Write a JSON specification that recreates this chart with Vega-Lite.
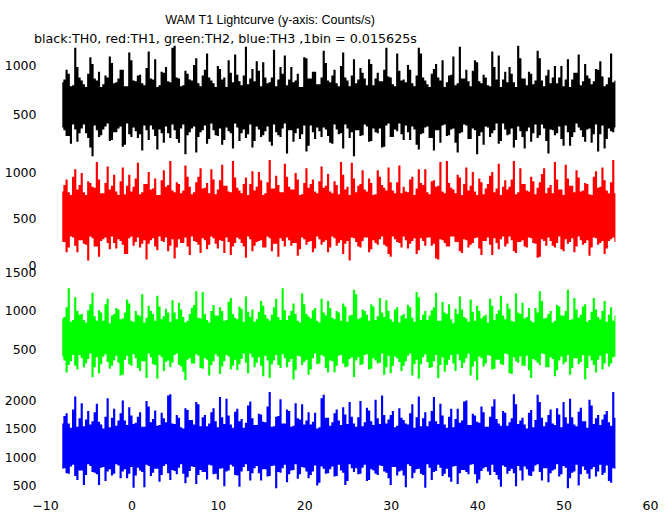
{
"$schema": "https://vega.github.io/schema/vega-lite/v6.json",
"background": "white",
"padding": {"left": 4, "top": 13, "right": 10, "bottom": 0},
"bounds": "flush",
"spacing": 0,
"title": {"text": "WAM T1 Lightcurve (y-axis: Counts/s)", "anchor": "start", "dx": 161, "offset": 7, "font": "Liberation Sans", "fontSize": 12.5, "fontWeight": "normal", "color": "black"},
"data": {"values": [
{"t":-8,"a0":360,"a1":830,"b0":250,"b1":800,"c0":400,"c1":900,"d0":790,"d1":1600},
{"t":-7.75,"a0":330,"a1":860,"b0":250,"b1":870,"c0":350,"c1":920,"d0":800,"d1":1730},
{"t":-7.5,"a0":270,"a1":960,"b0":140,"b1":930,"c0":190,"c1":1050,"d0":710,"d1":1780},
{"t":-7.25,"a0":270,"a1":920,"b0":190,"b1":790,"c0":290,"c1":1300,"d0":700,"d1":1600},
{"t":-7,"a0":190,"a1":790,"b0":310,"b1":760,"c0":340,"c1":860,"d0":830,"d1":1520},
{"t":-6.75,"a0":390,"a1":800,"b0":300,"b1":960,"c0":420,"c1":880,"d0":860,"d1":1850},
{"t":-6.5,"a0":340,"a1":1190,"b0":210,"b1":1040,"c0":280,"c1":1180,"d0":660,"d1":2080},
{"t":-6.25,"a0":210,"a1":990,"b0":140,"b1":820,"c0":230,"c1":1000,"d0":590,"d1":1540},
{"t":-6,"a0":300,"a1":880,"b0":270,"b1":870,"c0":420,"c1":950,"d0":760,"d1":1690},
{"t":-5.75,"a0":350,"a1":850,"b0":270,"b1":1000,"c0":380,"c1":960,"d0":760,"d1":1960},
{"t":-5.5,"a0":390,"a1":810,"b0":230,"b1":790,"c0":260,"c1":880,"d0":500,"d1":1550},
{"t":-5.25,"a0":300,"a1":780,"b0":220,"b1":760,"c0":310,"c1":850,"d0":680,"d1":1670},
{"t":-5,"a0":250,"a1":920,"b0":50,"b1":910,"c0":370,"c1":1010,"d0":870,"d1":1820},
{"t":-4.75,"a0":150,"a1":1090,"b0":310,"b1":890,"c0":440,"c1":1090,"d0":840,"d1":1580},
{"t":-4.5,"a0":60,"a1":1020,"b0":290,"b1":850,"c0":130,"c1":1240,"d0":730,"d1":1640},
{"t":-4.25,"a0":380,"a1":870,"b0":200,"b1":840,"c0":260,"c1":930,"d0":720,"d1":1800},
{"t":-4,"a0":330,"a1":850,"b0":200,"b1":1120,"c0":390,"c1":870,"d0":690,"d1":1950},
{"t":-3.75,"a0":260,"a1":940,"b0":90,"b1":930,"c0":180,"c1":1010,"d0":500,"d1":1630},
{"t":-3.5,"a0":280,"a1":780,"b0":260,"b1":780,"c0":300,"c1":980,"d0":810,"d1":1580},
{"t":-3.25,"a0":340,"a1":810,"b0":280,"b1":780,"c0":400,"c1":870,"d0":820,"d1":1510},
{"t":-3,"a0":370,"a1":900,"b0":300,"b1":890,"c0":430,"c1":1090,"d0":570,"d1":1720},
{"t":-2.75,"a0":400,"a1":880,"b0":240,"b1":1070,"c0":330,"c1":1160,"d0":740,"d1":2050},
{"t":-2.5,"a0":220,"a1":1100,"b0":170,"b1":820,"c0":240,"c1":840,"d0":780,"d1":1530},
{"t":-2.25,"a0":230,"a1":1030,"b0":310,"b1":860,"c0":280,"c1":940,"d0":670,"d1":1700},
{"t":-2,"a0":310,"a1":820,"b0":240,"b1":980,"c0":350,"c1":960,"d0":700,"d1":1860},
{"t":-1.75,"a0":310,"a1":830,"b0":180,"b1":800,"c0":410,"c1":1040,"d0":870,"d1":1560},
{"t":-1.5,"a0":350,"a1":870,"b0":280,"b1":760,"c0":320,"c1":1020,"d0":850,"d1":1650},
{"t":-1.25,"a0":370,"a1":960,"b0":260,"b1":910,"c0":150,"c1":890,"d0":620,"d1":1780},
{"t":-1,"a0":160,"a1":960,"b0":220,"b1":1060,"c0":160,"c1":900,"d0":740,"d1":2010},
{"t":-0.75,"a0":180,"a1":790,"b0":120,"b1":770,"c0":360,"c1":980,"d0":780,"d1":1650},
{"t":-0.5,"a0":400,"a1":790,"b0":120,"b1":860,"c0":410,"c1":1150,"d0":620,"d1":1570},
{"t":-0.25,"a0":290,"a1":1140,"b0":290,"b1":980,"c0":300,"c1":1100,"d0":700,"d1":1890},
{"t":0,"a0":260,"a1":1060,"b0":310,"b1":800,"c0":280,"c1":870,"d0":820,"d1":1740},
{"t":0.25,"a0":360,"a1":850,"b0":210,"b1":850,"c0":430,"c1":860,"d0":450,"d1":1590},
{"t":0.5,"a0":320,"a1":840,"b0":250,"b1":940,"c0":380,"c1":1000,"d0":670,"d1":1610},
{"t":0.75,"a0":250,"a1":900,"b0":300,"b1":1110,"c0":250,"c1":950,"d0":810,"d1":1720},
{"t":1,"a0":290,"a1":910,"b0":190,"b1":770,"c0":210,"c1":930,"d0":760,"d1":1800},
{"t":1.25,"a0":120,"a1":820,"b0":230,"b1":790,"c0":340,"c1":1220,"d0":730,"d1":1540},
{"t":1.5,"a0":380,"a1":800,"b0":270,"b1":880,"c0":340,"c1":850,"d0":460,"d1":1540},
{"t":1.75,"a0":330,"a1":980,"b0":60,"b1":880,"c0":120,"c1":910,"d0":860,"d1":2000},
{"t":2,"a0":230,"a1":1150,"b0":230,"b1":1010,"c0":440,"c1":1070,"d0":840,"d1":1900},
{"t":2.25,"a0":380,"a1":870,"b0":270,"b1":820,"c0":390,"c1":1000,"d0":660,"d1":1620},
{"t":2.5,"a0":340,"a1":860,"b0":290,"b1":830,"c0":300,"c1":960,"d0":720,"d1":1680},
{"t":2.75,"a0":270,"a1":1070,"b0":200,"b1":940,"c0":290,"c1":870,"d0":790,"d1":1830},
{"t":3,"a0":130,"a1":780,"b0":160,"b1":760,"c0":110,"c1":1200,"d0":790,"d1":1560},
{"t":3.25,"a0":340,"a1":800,"b0":310,"b1":760,"c0":420,"c1":1060,"d0":560,"d1":1570},
{"t":3.5,"a0":300,"a1":940,"b0":260,"b1":920,"c0":390,"c1":890,"d0":680,"d1":1790},
{"t":3.75,"a0":200,"a1":930,"b0":250,"b1":1030,"c0":210,"c1":930,"d0":840,"d1":1690},
{"t":4,"a0":370,"a1":990,"b0":300,"b1":850,"c0":330,"c1":1030,"d0":870,"d1":1620},
{"t":4.25,"a0":300,"a1":840,"b0":150,"b1":870,"c0":350,"c1":980,"d0":710,"d1":2100},
{"t":4.5,"a0":250,"a1":830,"b0":210,"b1":1130,"c0":260,"c1":860,"d0":590,"d1":2120},
{"t":4.75,"a0":390,"a1":1190,"b0":280,"b1":810,"c0":320,"c1":1140,"d0":770,"d1":1600},
{"t":5,"a0":330,"a1":1210,"b0":70,"b1":790,"c0":420,"c1":980,"d0":750,"d1":1590},
{"t":5.25,"a0":240,"a1":880,"b0":190,"b1":900,"c0":440,"c1":890,"d0":690,"d1":1750},
{"t":5.5,"a0":200,"a1":870,"b0":280,"b1":880,"c0":290,"c1":1110,"d0":810,"d1":1700},
{"t":5.75,"a0":350,"a1":790,"b0":240,"b1":780,"c0":270,"c1":1020,"d0":870,"d1":1530},
{"t":6,"a0":390,"a1":800,"b0":240,"b1":810,"c0":200,"c1":920,"d0":700,"d1":1510},
{"t":6.25,"a0":80,"a1":950,"b0":300,"b1":1080,"c0":90,"c1":850,"d0":530,"d1":1870},
{"t":6.5,"a0":280,"a1":920,"b0":200,"b1":960,"c0":360,"c1":870,"d0":640,"d1":1840},
{"t":6.75,"a0":310,"a1":860,"b0":110,"b1":850,"c0":380,"c1":960,"d0":750,"d1":1660},
{"t":7,"a0":350,"a1":850,"b0":310,"b1":770,"c0":310,"c1":1040,"d0":830,"d1":1660},
{"t":7.25,"a0":370,"a1":1010,"b0":260,"b1":790,"c0":310,"c1":1080,"d0":820,"d1":1580},
{"t":7.5,"a0":100,"a1":1080,"b0":250,"b1":900,"c0":430,"c1":1260,"d0":520,"d1":1980},
{"t":7.75,"a0":260,"a1":820,"b0":220,"b1":960,"c0":410,"c1":910,"d0":680,"d1":1940},
{"t":8,"a0":310,"a1":790,"b0":130,"b1":1050,"c0":250,"c1":900,"d0":770,"d1":1550},
{"t":8.25,"a0":330,"a1":900,"b0":290,"b1":830,"c0":240,"c1":1250,"d0":730,"d1":1710},
{"t":8.5,"a0":380,"a1":960,"b0":270,"b1":840,"c0":380,"c1":960,"d0":730,"d1":1750},
{"t":8.75,"a0":190,"a1":1130,"b0":170,"b1":890,"c0":360,"c1":880,"d0":600,"d1":1550},
{"t":9,"a0":240,"a1":880,"b0":220,"b1":780,"c0":150,"c1":850,"d0":860,"d1":1600},
{"t":9.25,"a0":400,"a1":850,"b0":310,"b1":1040,"c0":290,"c1":1000,"d0":850,"d1":1800},
{"t":9.5,"a0":330,"a1":820,"b0":290,"b1":930,"c0":340,"c1":1080,"d0":690,"d1":1870},
{"t":9.75,"a0":280,"a1":780,"b0":230,"b1":770,"c0":430,"c1":940,"d0":700,"d1":1640},
{"t":10,"a0":270,"a1":1000,"b0":180,"b1":820,"c0":400,"c1":940,"d0":600,"d1":1530},
{"t":10.25,"a0":350,"a1":970,"b0":270,"b1":920,"c0":170,"c1":1050,"d0":790,"d1":2070},
{"t":10.5,"a0":180,"a1":860,"b0":260,"b1":1090,"c0":270,"c1":1000,"d0":800,"d1":1710},
{"t":10.75,"a0":230,"a1":880,"b0":130,"b1":860,"c0":340,"c1":870,"d0":480,"d1":1590},
{"t":11,"a0":360,"a1":780,"b0":300,"b1":860,"c0":420,"c1":880,"d0":740,"d1":2040},
{"t":11.25,"a0":320,"a1":1060,"b0":250,"b1":800,"c0":400,"c1":1120,"d0":760,"d1":1740},
{"t":11.5,"a0":300,"a1":930,"b0":110,"b1":790,"c0":230,"c1":1170,"d0":860,"d1":1580},
{"t":11.75,"a0":140,"a1":830,"b0":200,"b1":1130,"c0":280,"c1":960,"d0":830,"d1":1520},
{"t":12,"a0":400,"a1":1120,"b0":240,"b1":950,"c0":360,"c1":910,"d0":680,"d1":1810},
{"t":12.25,"a0":360,"a1":910,"b0":300,"b1":840,"c0":220,"c1":890,"d0":670,"d1":1860},
{"t":12.5,"a0":220,"a1":840,"b0":280,"b1":810,"c0":300,"c1":1060,"d0":470,"d1":1640},
{"t":12.75,"a0":300,"a1":800,"b0":240,"b1":780,"c0":370,"c1":1030,"d0":740,"d1":1680},
{"t":13,"a0":340,"a1":900,"b0":200,"b1":880,"c0":440,"c1":860,"d0":820,"d1":1520},
{"t":13.25,"a0":250,"a1":1200,"b0":80,"b1":950,"c0":320,"c1":1190,"d0":870,"d1":1610},
{"t":13.5,"a0":290,"a1":810,"b0":310,"b1":760,"c0":180,"c1":990,"d0":750,"d1":1920},
{"t":13.75,"a0":390,"a1":870,"b0":280,"b1":880,"c0":440,"c1":920,"d0":580,"d1":1990},
{"t":14,"a0":150,"a1":970,"b0":150,"b1":1020,"c0":390,"c1":1020,"d0":710,"d1":1690},
{"t":14.25,"a0":220,"a1":840,"b0":210,"b1":810,"c0":260,"c1":860,"d0":800,"d1":1570},
{"t":14.5,"a0":370,"a1":1050,"b0":250,"b1":850,"c0":320,"c1":890,"d0":840,"d1":1570},
{"t":14.75,"a0":340,"a1":950,"b0":260,"b1":1010,"c0":390,"c1":990,"d0":710,"d1":1770},
{"t":15,"a0":260,"a1":790,"b0":270,"b1":920,"c0":280,"c1":1130,"d0":580,"d1":1760},
{"t":15.25,"a0":280,"a1":1040,"b0":190,"b1":760,"c0":140,"c1":1070,"d0":780,"d1":1630},
{"t":15.5,"a0":320,"a1":880,"b0":190,"b1":780,"c0":410,"c1":950,"d0":780,"d1":1620},
{"t":15.75,"a0":370,"a1":820,"b0":310,"b1":900,"c0":350,"c1":900,"d0":650,"d1":1900},
{"t":16,"a0":210,"a1":830,"b0":290,"b1":1140,"c0":120,"c1":870,"d0":660,"d1":2160},
{"t":16.25,"a0":170,"a1":880,"b0":150,"b1":830,"c0":300,"c1":950,"d0":840,"d1":1540},
{"t":16.5,"a0":390,"a1":1170,"b0":230,"b1":830,"c0":350,"c1":1050,"d0":850,"d1":1550},
{"t":16.75,"a0":310,"a1":790,"b0":230,"b1":970,"c0":420,"c1":1160,"d0":440,"d1":1720},
{"t":17,"a0":280,"a1":860,"b0":90,"b1":870,"c0":290,"c1":920,"d0":730,"d1":1730},
{"t":17.25,"a0":260,"a1":990,"b0":290,"b1":790,"c0":250,"c1":880,"d0":720,"d1":2030},
{"t":17.5,"a0":350,"a1":920,"b0":260,"b1":790,"c0":430,"c1":1300,"d0":800,"d1":1600},
{"t":17.75,"a0":400,"a1":1110,"b0":200,"b1":1100,"c0":380,"c1":1010,"d0":860,"d1":1600},
{"t":18,"a0":90,"a1":800,"b0":300,"b1":960,"c0":260,"c1":880,"d0":550,"d1":1850},
{"t":18.25,"a0":330,"a1":860,"b0":270,"b1":850,"c0":330,"c1":940,"d0":690,"d1":1820},
{"t":18.5,"a0":330,"a1":990,"b0":210,"b1":820,"c0":370,"c1":1000,"d0":760,"d1":1540},
{"t":18.75,"a0":210,"a1":830,"b0":240,"b1":820,"c0":100,"c1":1100,"d0":770,"d1":1560},
{"t":19,"a0":300,"a1":850,"b0":240,"b1":1000,"c0":220,"c1":960,"d0":870,"d1":1960},
{"t":19.25,"a0":350,"a1":920,"b0":100,"b1":930,"c0":410,"c1":870,"d0":610,"d1":1690},
{"t":19.5,"a0":240,"a1":780,"b0":170,"b1":760,"c0":400,"c1":850,"d0":690,"d1":1670},
{"t":19.75,"a0":290,"a1":780,"b0":300,"b1":770,"c0":290,"c1":1230,"d0":820,"d1":1940},
{"t":20,"a0":380,"a1":1090,"b0":280,"b1":890,"c0":330,"c1":1090,"d0":810,"d1":1580},
{"t":20.25,"a0":110,"a1":1080,"b0":220,"b1":1050,"c0":360,"c1":960,"d0":740,"d1":1650},
{"t":20.5,"a0":170,"a1":870,"b0":250,"b1":840,"c0":160,"c1":930,"d0":620,"d1":1800},
{"t":20.75,"a0":380,"a1":870,"b0":260,"b1":880,"c0":230,"c1":900,"d0":680,"d1":1580},
{"t":21,"a0":310,"a1":940,"b0":140,"b1":930,"c0":380,"c1":1010,"d0":740,"d1":1630},
{"t":21.25,"a0":240,"a1":940,"b0":180,"b1":800,"c0":440,"c1":1040,"d0":850,"d1":1790},
{"t":21.5,"a0":360,"a1":810,"b0":310,"b1":780,"c0":300,"c1":870,"d0":490,"d1":1510},
{"t":21.75,"a0":320,"a1":810,"b0":280,"b1":910,"c0":310,"c1":850,"d0":540,"d1":1530},
{"t":22,"a0":260,"a1":880,"b0":220,"b1":1070,"c0":420,"c1":1160,"d0":830,"d1":2050},
{"t":22.25,"a0":360,"a1":1160,"b0":250,"b1":840,"c0":400,"c1":980,"d0":790,"d1":2110},
{"t":22.5,"a0":340,"a1":1030,"b0":270,"b1":860,"c0":250,"c1":940,"d0":700,"d1":1700},
{"t":22.75,"a0":270,"a1":850,"b0":140,"b1":990,"c0":190,"c1":1130,"d0":710,"d1":1700},
{"t":23,"a0":200,"a1":830,"b0":190,"b1":800,"c0":350,"c1":1040,"d0":780,"d1":1560},
{"t":23.25,"a0":190,"a1":900,"b0":310,"b1":780,"c0":340,"c1":910,"d0":830,"d1":1620},
{"t":23.5,"a0":390,"a1":960,"b0":290,"b1":910,"c0":190,"c1":890,"d0":650,"d1":1780},
{"t":23.75,"a0":340,"a1":820,"b0":210,"b1":870,"c0":280,"c1":1000,"d0":660,"d1":1850},
{"t":24,"a0":290,"a1":790,"b0":240,"b1":770,"c0":410,"c1":980,"d0":860,"d1":1650},
{"t":24.25,"a0":300,"a1":1000,"b0":270,"b1":1120,"c0":420,"c1":870,"d0":760,"d1":1570},
{"t":24.5,"a0":140,"a1":1140,"b0":120,"b1":980,"c0":310,"c1":1100,"d0":720,"d1":1890},
{"t":24.75,"a0":390,"a1":880,"b0":230,"b1":820,"c0":260,"c1":1060,"d0":500,"d1":1760},
{"t":25,"a0":350,"a1":850,"b0":260,"b1":850,"c0":270,"c1":860,"d0":570,"d1":1590},
{"t":25.25,"a0":250,"a1":790,"b0":50,"b1":760,"c0":370,"c1":940,"d0":870,"d1":1980},
{"t":25.5,"a0":310,"a1":900,"b0":300,"b1":1110,"c0":390,"c1":950,"d0":800,"d1":1720},
{"t":25.75,"a0":60,"a1":1070,"b0":290,"b1":940,"c0":130,"c1":1280,"d0":730,"d1":1600},
{"t":26,"a0":330,"a1":820,"b0":250,"b1":790,"c0":350,"c1":1220,"d0":800,"d1":1540},
{"t":26.25,"a0":330,"a1":860,"b0":200,"b1":860,"c0":390,"c1":890,"d0":690,"d1":1710},
{"t":26.5,"a0":270,"a1":980,"b0":190,"b1":880,"c0":290,"c1":910,"d0":700,"d1":2000},
{"t":26.75,"a0":280,"a1":930,"b0":260,"b1":1030,"c0":300,"c1":1020,"d0":810,"d1":1550},
{"t":27,"a0":390,"a1":870,"b0":300,"b1":820,"c0":420,"c1":1000,"d0":860,"d1":1620},
{"t":27.25,"a0":370,"a1":800,"b0":300,"b1":800,"c0":430,"c1":950,"d0":570,"d1":1880},
{"t":27.5,"a0":210,"a1":1070,"b0":140,"b1":940,"c0":230,"c1":870,"d0":590,"d1":1830},
{"t":27.75,"a0":220,"a1":1020,"b0":170,"b1":890,"c0":240,"c1":1090,"d0":780,"d1":1640},
{"t":28,"a0":350,"a1":800,"b0":270,"b1":760,"c0":380,"c1":1060,"d0":760,"d1":1570},
{"t":28.25,"a0":310,"a1":870,"b0":240,"b1":770,"c0":350,"c1":880,"d0":700,"d1":2020},
{"t":28.5,"a0":300,"a1":930,"b0":220,"b1":1030,"c0":310,"c1":930,"d0":680,"d1":1690},
{"t":28.75,"a0":350,"a1":840,"b0":280,"b1":960,"c0":320,"c1":1170,"d0":850,"d1":1590},
{"t":29,"a0":150,"a1":840,"b0":310,"b1":870,"c0":440,"c1":980,"d0":840,"d1":2100},
{"t":29.25,"a0":160,"a1":960,"b0":220,"b1":840,"c0":160,"c1":920,"d0":740,"d1":1750},
{"t":29.5,"a0":380,"a1":1190,"b0":200,"b1":810,"c0":260,"c1":1140,"d0":720,"d1":1600},
{"t":29.75,"a0":400,"a1":890,"b0":120,"b1":1060,"c0":410,"c1":1000,"d0":620,"d1":1670},
{"t":30,"a0":260,"a1":880,"b0":90,"b1":900,"c0":180,"c1":890,"d0":500,"d1":1750},
{"t":30.25,"a0":260,"a1":810,"b0":310,"b1":810,"c0":280,"c1":860,"d0":820,"d1":1820},
{"t":30.5,"a0":340,"a1":790,"b0":280,"b1":780,"c0":400,"c1":1020,"d0":820,"d1":1530},
{"t":30.75,"a0":320,"a1":1130,"b0":250,"b1":900,"c0":380,"c1":1050,"d0":670,"d1":1560},
{"t":31,"a0":400,"a1":950,"b0":240,"b1":1080,"c0":330,"c1":850,"d0":740,"d1":1870},
{"t":31.25,"a0":290,"a1":850,"b0":190,"b1":780,"c0":210,"c1":940,"d0":760,"d1":1700},
{"t":31.5,"a0":230,"a1":860,"b0":310,"b1":850,"c0":280,"c1":960,"d0":670,"d1":1660},
{"t":31.75,"a0":380,"a1":830,"b0":270,"b1":800,"c0":340,"c1":900,"d0":460,"d1":1600},
{"t":32,"a0":310,"a1":1010,"b0":180,"b1":790,"c0":410,"c1":1080,"d0":870,"d1":1580},
{"t":32.25,"a0":230,"a1":960,"b0":230,"b1":930,"c0":440,"c1":1050,"d0":840,"d1":1780},
{"t":32.5,"a0":370,"a1":820,"b0":260,"b1":960,"c0":150,"c1":910,"d0":620,"d1":1940},
{"t":32.75,"a0":340,"a1":790,"b0":290,"b1":760,"c0":300,"c1":860,"d0":720,"d1":1520},
{"t":33,"a0":180,"a1":900,"b0":120,"b1":830,"c0":360,"c1":1250,"d0":780,"d1":1710},
{"t":33.25,"a0":130,"a1":1190,"b0":160,"b1":1040,"c0":110,"c1":1180,"d0":790,"d1":2080},
{"t":33.5,"a0":290,"a1":1130,"b0":290,"b1":890,"c0":300,"c1":880,"d0":700,"d1":1550},
{"t":33.75,"a0":300,"a1":880,"b0":260,"b1":870,"c0":390,"c1":950,"d0":680,"d1":1690},
{"t":34,"a0":360,"a1":850,"b0":210,"b1":1040,"c0":430,"c1":1000,"d0":450,"d1":1800},
{"t":34.25,"a0":370,"a1":810,"b0":300,"b1":790,"c0":330,"c1":880,"d0":870,"d1":1550},
{"t":34.5,"a0":250,"a1":780,"b0":300,"b1":770,"c0":250,"c1":940,"d0":810,"d1":1640},
{"t":34.75,"a0":250,"a1":920,"b0":210,"b1":910,"c0":260,"c1":1010,"d0":590,"d1":1820},
{"t":35,"a0":120,"a1":970,"b0":230,"b1":920,"c0":340,"c1":1050,"d0":730,"d1":2070},
{"t":35.25,"a0":330,"a1":1020,"b0":70,"b1":850,"c0":420,"c1":1240,"d0":750,"d1":1640},
{"t":35.5,"a0":330,"a1":880,"b0":60,"b1":860,"c0":120,"c1":870,"d0":860,"d1":1590},
{"t":35.75,"a0":200,"a1":850,"b0":280,"b1":1120,"c0":290,"c1":870,"d0":810,"d1":1950},
{"t":36,"a0":380,"a1":1060,"b0":270,"b1":800,"c0":390,"c1":1120,"d0":660,"d1":1740},
{"t":36.25,"a0":390,"a1":780,"b0":240,"b1":780,"c0":200,"c1":980,"d0":700,"d1":1580},
{"t":36.5,"a0":270,"a1":830,"b0":200,"b1":1130,"c0":290,"c1":960,"d0":790,"d1":1520},
{"t":36.75,"a0":280,"a1":900,"b0":200,"b1":890,"c0":360,"c1":1090,"d0":640,"d1":1720},
{"t":37,"a0":340,"a1":910,"b0":310,"b1":840,"c0":420,"c1":890,"d0":560,"d1":1860},
{"t":37.25,"a0":350,"a1":1100,"b0":310,"b1":820,"c0":310,"c1":840,"d0":830,"d1":1530},
{"t":37.5,"a0":200,"a1":800,"b0":250,"b1":780,"c0":210,"c1":1030,"d0":840,"d1":1680},
{"t":37.75,"a0":100,"a1":820,"b0":250,"b1":980,"c0":430,"c1":960,"d0":520,"d1":1860},
{"t":38,"a0":300,"a1":1200,"b0":150,"b1":950,"c0":350,"c1":1190,"d0":710,"d1":1610},
{"t":38.25,"a0":310,"a1":870,"b0":130,"b1":760,"c0":250,"c1":1020,"d0":770,"d1":1650},
{"t":38.5,"a0":390,"a1":870,"b0":280,"b1":880,"c0":320,"c1":920,"d0":770,"d1":1990},
{"t":38.75,"a0":380,"a1":960,"b0":270,"b1":1060,"c0":380,"c1":900,"d0":730,"d1":2010},
{"t":39,"a0":240,"a1":840,"b0":190,"b1":810,"c0":440,"c1":860,"d0":690,"d1":1570},
{"t":39.25,"a0":240,"a1":790,"b0":220,"b1":860,"c0":150,"c1":1150,"d0":860,"d1":1570},
{"t":39.5,"a0":350,"a1":950,"b0":240,"b1":1010,"c0":270,"c1":990,"d0":870,"d1":1770},
{"t":39.75,"a0":330,"a1":1060,"b0":290,"b1":800,"c0":340,"c1":870,"d0":690,"d1":1740},
{"t":40,"a0":80,"a1":1040,"b0":300,"b1":760,"c0":90,"c1":1070,"d0":530,"d1":1630},
{"t":40.25,"a0":270,"a1":840,"b0":180,"b1":940,"c0":400,"c1":1000,"d0":600,"d1":1610},
{"t":40.5,"a0":310,"a1":820,"b0":110,"b1":900,"c0":380,"c1":900,"d0":750,"d1":1900},
{"t":40.75,"a0":180,"a1":910,"b0":260,"b1":770,"c0":270,"c1":930,"d0":800,"d1":1800},
{"t":41,"a0":370,"a1":880,"b0":260,"b1":830,"c0":310,"c1":950,"d0":820,"d1":1540},
{"t":41.25,"a0":360,"a1":800,"b0":300,"b1":880,"c0":420,"c1":850,"d0":740,"d1":1540},
{"t":41.5,"a0":260,"a1":790,"b0":220,"b1":970,"c0":410,"c1":1160,"d0":680,"d1":1720},
{"t":41.75,"a0":300,"a1":1150,"b0":110,"b1":1010,"c0":230,"c1":1070,"d0":860,"d1":1900},
{"t":42,"a0":330,"a1":990,"b0":290,"b1":790,"c0":240,"c1":880,"d0":730,"d1":2030},
{"t":42.25,"a0":400,"a1":860,"b0":240,"b1":830,"c0":360,"c1":960,"d0":680,"d1":1680},
{"t":42.5,"a0":190,"a1":1110,"b0":170,"b1":1100,"c0":360,"c1":1010,"d0":600,"d1":1600},
{"t":42.75,"a0":220,"a1":780,"b0":280,"b1":760,"c0":300,"c1":1200,"d0":470,"d1":1560},
{"t":43,"a0":400,"a1":860,"b0":310,"b1":850,"c0":290,"c1":940,"d0":850,"d1":1820},
{"t":43.25,"a0":340,"a1":940,"b0":200,"b1":920,"c0":440,"c1":890,"d0":820,"d1":1790},
{"t":43.5,"a0":280,"a1":830,"b0":230,"b1":820,"c0":430,"c1":1100,"d0":700,"d1":1560},
{"t":43.75,"a0":290,"a1":990,"b0":310,"b1":850,"c0":180,"c1":1030,"d0":750,"d1":1620},
{"t":44,"a0":350,"a1":920,"b0":270,"b1":930,"c0":170,"c1":870,"d0":790,"d1":1690},
{"t":44.25,"a0":150,"a1":830,"b0":150,"b1":1130,"c0":390,"c1":860,"d0":710,"d1":2120},
{"t":44.5,"a0":230,"a1":780,"b0":130,"b1":770,"c0":340,"c1":1230,"d0":480,"d1":1940},
{"t":44.75,"a0":370,"a1":1210,"b0":250,"b1":790,"c0":320,"c1":980,"d0":840,"d1":1590},
{"t":45,"a0":320,"a1":1080,"b0":250,"b1":1050,"c0":400,"c1":960,"d0":760,"d1":1650},
{"t":45.25,"a0":260,"a1":870,"b0":270,"b1":880,"c0":280,"c1":1110,"d0":580,"d1":1700},
{"t":45.5,"a0":140,"a1":870,"b0":200,"b1":880,"c0":280,"c1":900,"d0":830,"d1":1580},
{"t":45.75,"a0":320,"a1":800,"b0":190,"b1":810,"c0":410,"c1":920,"d0":780,"d1":1510},
{"t":46,"a0":360,"a1":940,"b0":300,"b1":800,"c0":220,"c1":1040,"d0":670,"d1":1790},
{"t":46.25,"a0":210,"a1":920,"b0":290,"b1":960,"c0":120,"c1":870,"d0":660,"d1":1840},
{"t":46.5,"a0":300,"a1":810,"b0":240,"b1":910,"c0":370,"c1":850,"d0":740,"d1":1530},
{"t":46.75,"a0":390,"a1":850,"b0":230,"b1":770,"c0":350,"c1":1040,"d0":850,"d1":1660},
{"t":47,"a0":250,"a1":1160,"b0":80,"b1":840,"c0":320,"c1":980,"d0":870,"d1":2110},
{"t":47.25,"a0":280,"a1":1080,"b0":90,"b1":900,"c0":290,"c1":1260,"d0":730,"d1":1980},
{"t":47.5,"a0":390,"a1":850,"b0":280,"b1":990,"c0":440,"c1":1130,"d0":580,"d1":1700},
{"t":47.75,"a0":350,"a1":790,"b0":260,"b1":1050,"c0":430,"c1":900,"d0":800,"d1":1550},
{"t":48,"a0":220,"a1":900,"b0":210,"b1":780,"c0":260,"c1":910,"d0":800,"d1":1620},
{"t":48.25,"a0":90,"a1":960,"b0":300,"b1":840,"c0":260,"c1":960,"d0":550,"d1":1750},
{"t":48.5,"a0":340,"a1":820,"b0":260,"b1":870,"c0":390,"c1":1000,"d0":710,"d1":1850},
{"t":48.75,"a0":330,"a1":880,"b0":210,"b1":780,"c0":370,"c1":850,"d0":760,"d1":1600},
{"t":49,"a0":280,"a1":1000,"b0":190,"b1":1120,"c0":140,"c1":870,"d0":780,"d1":1570},
{"t":49.25,"a0":300,"a1":820,"b0":240,"b1":930,"c0":220,"c1":1080,"d0":870,"d1":1870},
{"t":49.5,"a0":370,"a1":880,"b0":310,"b1":820,"c0":350,"c1":1060,"d0":650,"d1":1760},
{"t":49.75,"a0":240,"a1":1000,"b0":170,"b1":820,"c0":400,"c1":940,"d0":690,"d1":1530},
{"t":50,"a0":170,"a1":790,"b0":150,"b1":760,"c0":300,"c1":940,"d0":840,"d1":1980},
{"t":50.25,"a0":380,"a1":860,"b0":280,"b1":1090,"c0":330,"c1":1000,"d0":810,"d1":1710},
{"t":50.5,"a0":310,"a1":1070,"b0":230,"b1":940,"c0":420,"c1":1280,"d0":440,"d1":1600},
{"t":50.75,"a0":170,"a1":780,"b0":250,"b1":860,"c0":160,"c1":880,"d0":620,"d1":2040},
{"t":51,"a0":260,"a1":860,"b0":290,"b1":860,"c0":250,"c1":890,"d0":720,"d1":1710},
{"t":51.25,"a0":310,"a1":930,"b0":140,"b1":790,"c0":380,"c1":1170,"d0":740,"d1":1580},
{"t":51.5,"a0":400,"a1":930,"b0":200,"b1":1030,"c0":380,"c1":1020,"d0":860,"d1":1550},
{"t":51.75,"a0":360,"a1":1120,"b0":310,"b1":950,"c0":300,"c1":910,"d0":490,"d1":1810},
{"t":52,"a0":330,"a1":800,"b0":270,"b1":800,"c0":330,"c1":950,"d0":690,"d1":1880},
{"t":52.25,"a0":260,"a1":840,"b0":220,"b1":810,"c0":420,"c1":1060,"d0":830,"d1":1640},
{"t":52.5,"a0":210,"a1":1020,"b0":240,"b1":890,"c0":100,"c1":1090,"d0":770,"d1":1640},
{"t":52.75,"a0":340,"a1":900,"b0":270,"b1":880,"c0":250,"c1":860,"d0":700,"d1":1520},
{"t":53,"a0":350,"a1":870,"b0":100,"b1":770,"c0":410,"c1":880,"d0":610,"d1":2020},
{"t":53.25,"a0":200,"a1":810,"b0":190,"b1":760,"c0":350,"c1":990,"d0":780,"d1":1920},
{"t":53.5,"a0":290,"a1":840,"b0":300,"b1":960,"c0":290,"c1":1170,"d0":820,"d1":1590},
{"t":53.75,"a0":390,"a1":970,"b0":290,"b1":1020,"c0":190,"c1":1020,"d0":650,"d1":1690},
{"t":54,"a0":110,"a1":960,"b0":220,"b1":840,"c0":360,"c1":920,"d0":740,"d1":1750},
{"t":54.25,"a0":290,"a1":1050,"b0":240,"b1":850,"c0":410,"c1":890,"d0":860,"d1":1570},
{"t":54.5,"a0":380,"a1":890,"b0":260,"b1":1060,"c0":230,"c1":1000,"d0":680,"d1":1670},
{"t":54.75,"a0":140,"a1":790,"b0":120,"b1":920,"c0":310,"c1":1130,"d0":720,"d1":1760},
{"t":55,"a0":240,"a1":810,"b0":180,"b1":810,"c0":440,"c1":860,"d0":850,"d1":1820},
{"t":55.25,"a0":350,"a1":880,"b0":260,"b1":780,"c0":270,"c1":950,"d0":570,"d1":1620},
{"t":55.5,"a0":320,"a1":1130,"b0":280,"b1":900,"c0":310,"c1":1050,"d0":540,"d1":1560},
{"t":55.75,"a0":310,"a1":830,"b0":300,"b1":1140,"c0":390,"c1":870,"d0":800,"d1":2160},
{"t":56,"a0":360,"a1":850,"b0":250,"b1":780,"c0":400,"c1":940,"d0":790,"d1":1700}
]},
"vconcat": [
{"width": 605, "height": 104,
 "title": {"text": "black:TH0, red:TH1, green:TH2, blue:TH3 ,1bin = 0.015625s", "anchor": "start", "frame": "group", "dx": -11, "offset": 0, "font": "DejaVu Sans", "fontSize": 12.7, "fontWeight": "normal", "color": "black"},
 "mark": {"type": "area", "interpolate": "step", "color": "#000000", "clip": false},
 "encoding": {
  "x": {"field": "t", "type": "quantitative", "scale": {"domain": [-10, 60], "nice": false, "zero": false}, "axis": null},
  "y": {"field": "a0", "type": "quantitative", "scale": {"domain": [94, 1177], "nice": false, "zero": false}, "axis": {"values": [500, 1000], "title": null, "format": "d"}},
  "y2": {"field": "a1"}
 }},
{"width": 605, "height": 118,
 "mark": {"type": "area", "interpolate": "step", "color": "#ff0000", "clip": false},
 "encoding": {
  "x": {"field": "t", "type": "quantitative", "scale": {"domain": [-10, 60], "nice": false, "zero": false}, "axis": null},
  "y": {"field": "b0", "type": "quantitative", "scale": {"domain": [-65, 1217], "nice": false, "zero": false}, "axis": {"values": [0, 500, 1000], "title": null, "format": "d"}},
  "y2": {"field": "b1"}
 }},
{"width": 605, "height": 111,
 "mark": {"type": "area", "interpolate": "step", "color": "#00ff00", "clip": false},
 "encoding": {
  "x": {"field": "t", "type": "quantitative", "scale": {"domain": [-10, 60], "nice": false, "zero": false}, "axis": null},
  "y": {"field": "c0", "type": "quantitative", "scale": {"domain": [66, 1526], "nice": false, "zero": false}, "axis": {"values": [500, 1000, 1500], "title": null, "format": "d"}},
  "y2": {"field": "c1"}
 }},
{"width": 605, "height": 109,
 "mark": {"type": "area", "interpolate": "step", "color": "#0000ff", "clip": false},
 "encoding": {
  "x": {"field": "t", "type": "quantitative", "scale": {"domain": [-10, 60], "nice": false, "zero": false}, "axis": {"values": [-10, 0, 10, 20, 30, 40, 50, 60], "title": null, "labelFlush": false, "labelPadding": 8}},
  "y": {"field": "d0", "type": "quantitative", "scale": {"domain": [393, 2339], "nice": false, "zero": false}, "axis": {"values": [500, 1000, 1500, 2000], "title": null, "format": "d"}},
  "y2": {"field": "d1"}
 }}
],
"config": {
 "view": {"stroke": null},
 "axis": {"domain": false, "ticks": false, "grid": false, "labelFont": "DejaVu Sans", "labelFontSize": 12.5, "labelColor": "black", "labelPadding": 9, "labelOverlap": false}
}
}
